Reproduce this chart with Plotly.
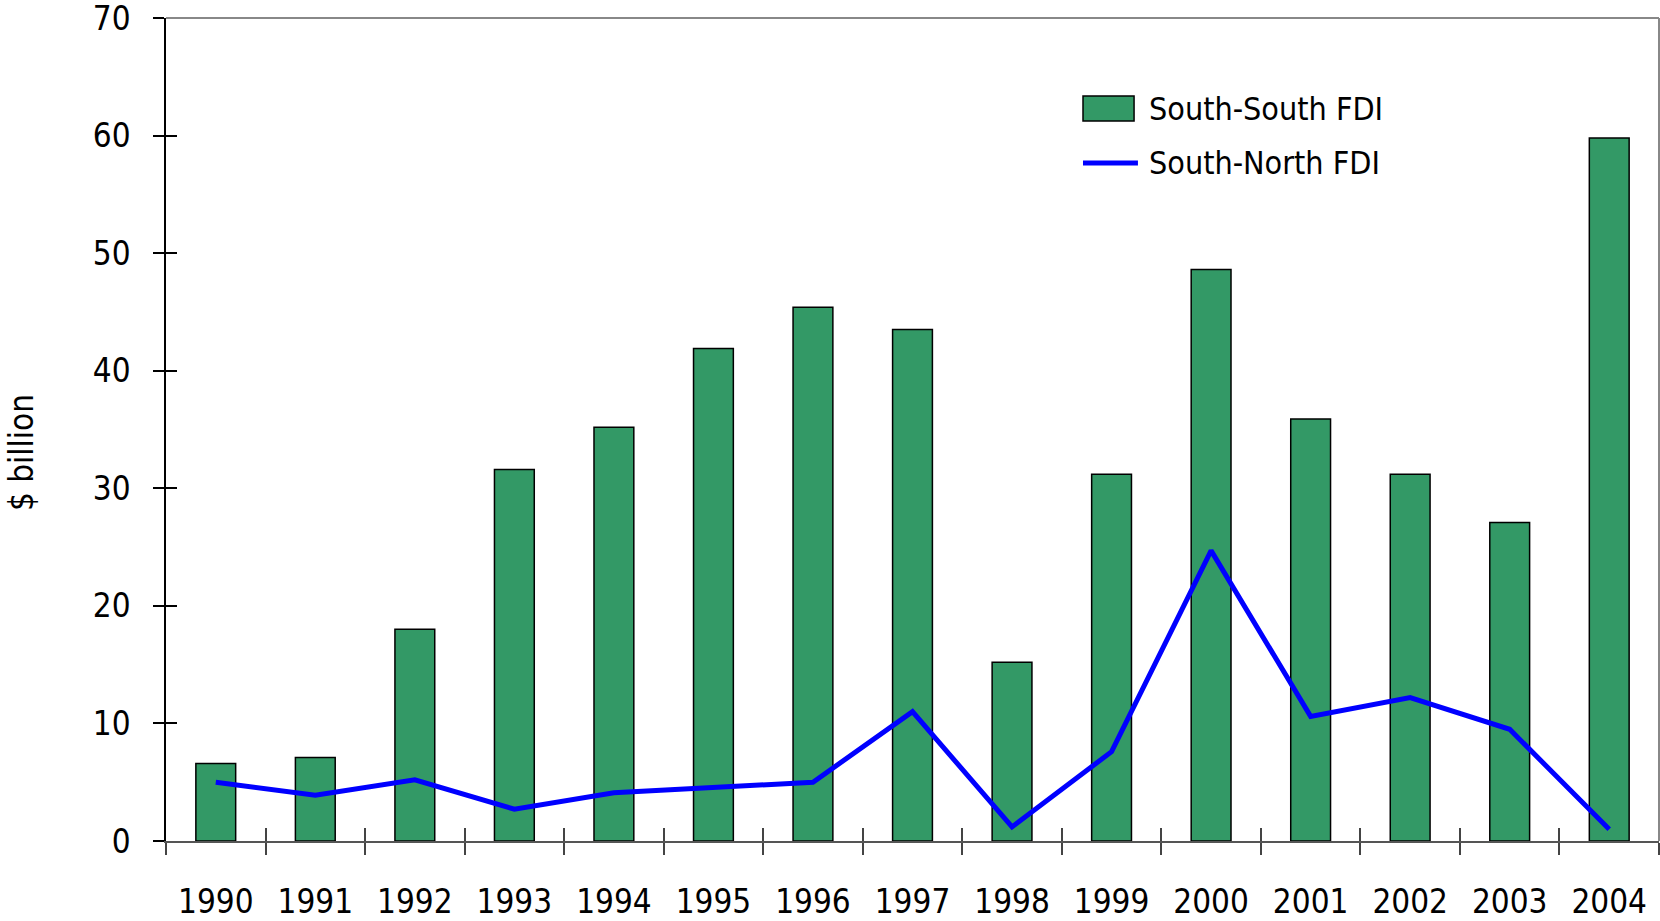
import plotly.graph_objects as go

years = ["1990", "1991", "1992", "1993", "1994", "1995", "1996", "1997",
         "1998", "1999", "2000", "2001", "2002", "2003", "2004"]
south_south = [6.6, 7.1, 18.0, 31.6, 35.2, 41.9, 45.4, 43.5,
               15.2, 31.2, 48.6, 35.9, 31.2, 27.1, 59.8]
south_north = [5.0, 3.9, 5.2, 2.7, 4.1, 4.6, 5.0, 11.0,
               1.2, 7.6, 24.7, 10.6, 12.2, 9.5, 1.0]
y_ticks = [0, 10, 20, 30, 40, 50, 60, 70]
series_names = ["South-South FDI", "South-North FDI"]
y_title = "$ billion"

BAR_COLOR = "#339966"
LINE_COLOR = "#0000FF"
FONT = "DejaVu Sans Condensed, Liberation Sans Narrow, Arial Narrow, sans-serif"

fig = go.Figure()
fig.add_trace(go.Bar(
    x=years, y=south_south, name=series_names[0], showlegend=False,
    marker=dict(color=BAR_COLOR, line=dict(color="black", width=1.5)),
))
fig.add_trace(go.Scatter(
    x=years, y=south_north, name=series_names[1], mode="lines", showlegend=False,
    line=dict(color=LINE_COLOR, width=5),
))
# near-invisible trace to carry the inside-tick overlay axes
fig.add_trace(go.Scatter(
    x=years, y=south_north, xaxis="x2", yaxis="y2", mode="markers",
    marker=dict(size=1, color="rgba(255,255,255,0.01)"),
    showlegend=False, hoverinfo="skip",
))

lx0, lx1 = 0.6142, 0.6484
fig.update_layout(
    width=1660, height=921,
    margin=dict(l=166, r=1, t=18, b=80),
    paper_bgcolor="white", plot_bgcolor="white",
    font=dict(family=FONT, size=33, color="black"),
    bargap=0.6,
    showlegend=False,
    xaxis=dict(type="category", categoryarray=years, range=[-0.5, 14.5],
               tickson="boundaries", ticks="outside", ticklen=12, tickwidth=1.5,
               tickcolor="#444", showline=True, linecolor="#555", linewidth=1.5,
               showgrid=False, zeroline=False, ticklabelstandoff=31,
               automargin=False, tickfont=dict(size=33)),
    yaxis=dict(range=[0, 70], tickvals=y_ticks, ticks="outside", ticklen=11,
               tickwidth=1.5, tickcolor="black", showline=True, linecolor="black",
               linewidth=1.5, showgrid=False, zeroline=False, ticklabelstandoff=16,
               automargin=False, ticklabeloverflow="allow",
               tickfont=dict(size=33)),
    xaxis2=dict(type="category", categoryarray=years, range=[-0.5, 14.5],
                overlaying="x", side="bottom", tickson="boundaries", ticks="inside",
                ticklen=13, tickwidth=1.5, tickcolor="#444", showticklabels=False,
                showline=False, showgrid=False, zeroline=False, anchor="y2",
                automargin=False, visible=True),
    yaxis2=dict(range=[0, 70], tickvals=y_ticks, overlaying="y", side="left",
                ticks="inside", ticklen=11, tickwidth=1.5, tickcolor="black",
                showticklabels=False, showline=False, showgrid=False,
                zeroline=False, anchor="x2", automargin=False, visible=True),
    shapes=[
        dict(type="line", xref="paper", yref="paper", x0=0, x1=1, y0=1, y1=1,
             line=dict(color="#888", width=2)),
        dict(type="line", xref="paper", yref="paper", x0=1, x1=1, y0=0, y1=1,
             line=dict(color="#888", width=2)),
        dict(type="rect", xref="paper", yref="paper", x0=lx0, x1=lx1,
             y0=0.8748, y1=0.9052, fillcolor=BAR_COLOR,
             line=dict(color="black", width=1.5)),
        dict(type="line", xref="paper", yref="paper", x0=lx0, x1=0.6510,
             y0=0.8238, y1=0.8238, line=dict(color=LINE_COLOR, width=5)),
    ],
    annotations=[
        dict(text=series_names[0], xref="paper", yref="paper", x=0.6571, y=0.8894,
             xanchor="left", yanchor="middle", showarrow=False,
             font=dict(size=32)),
        dict(text=series_names[1], xref="paper", yref="paper", x=0.6571, y=0.8238,
             xanchor="left", yanchor="middle", showarrow=False,
             font=dict(size=32)),
        dict(text=y_title, xref="paper", yref="paper", x=-0.0971, y=0.4714,
             xanchor="center", yanchor="middle", textangle=-90, showarrow=False,
             font=dict(size=33)),
    ],
)

fig.write_html("out.html", config={"displayModeBar": False},
               post_script="document.body.style.margin='0';document.body.style.overflow='hidden';")
